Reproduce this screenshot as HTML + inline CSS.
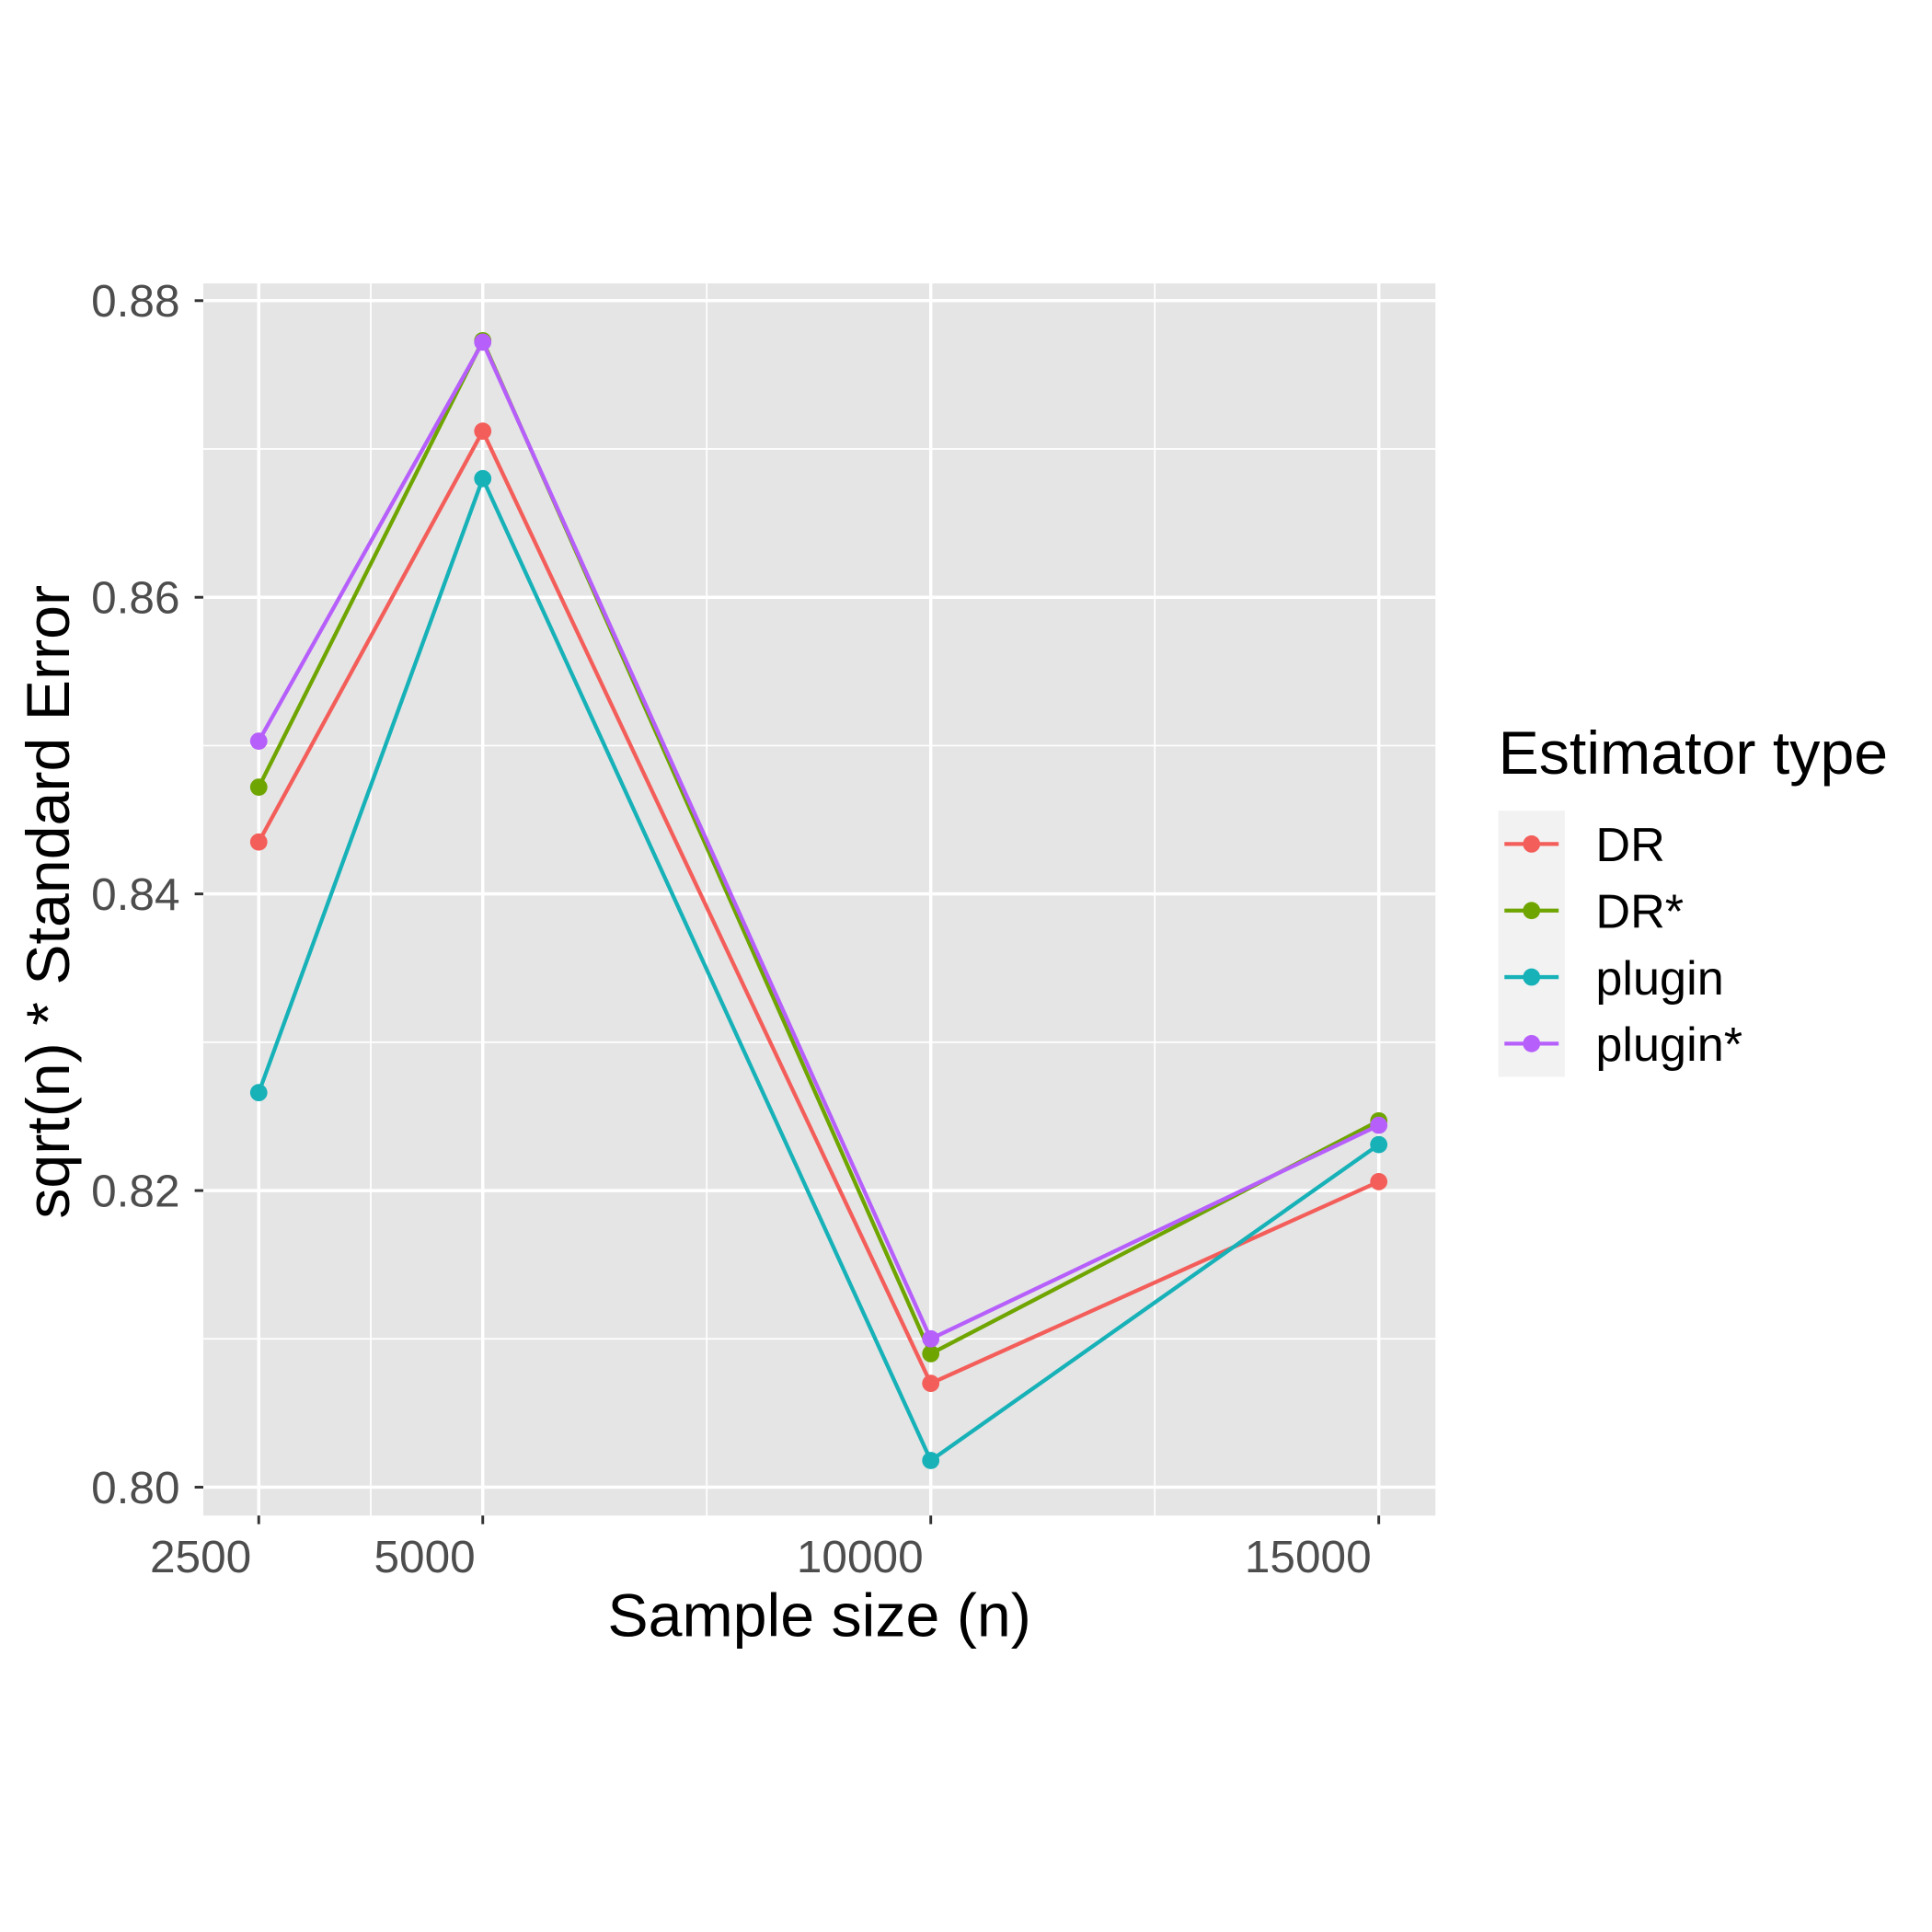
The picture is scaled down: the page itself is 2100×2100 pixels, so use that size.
<!DOCTYPE html>
<html><head><meta charset="utf-8"><style>
html,body{margin:0;padding:0;background:#fff;}
svg{display:block;}
text{font-family:"Liberation Sans",Arial,sans-serif;}
</style></head><body>
<svg id="chart" width="2100" height="2100" viewBox="0 0 1568 1568" xmlns="http://www.w3.org/2000/svg">
<rect width="1568" height="1568" fill="#fff"/>
<rect x="165" y="230" width="1000" height="1000" fill="#E5E5E5"/>
<g id="grid"></g>
<g id="series"></g>
<g id="axes"></g>
<text x="665" y="1328" font-size="49.5" text-anchor="middle" fill="#000">Sample size (n)</text>
<text transform="translate(56,732) rotate(-90)" font-size="49.5" text-anchor="middle" fill="#000">sqrt(n) * Standard Error</text>
<text x="1216" y="628" font-size="49.5" fill="#000">Estimator type</text>
<rect x="1216" y="658" width="54" height="216" fill="#F2F2F2"/>
<g id="legend"></g>
</svg>
<script>
const categories = [2500, 5000, 10000, 15000];
const seriesNames = ["DR", "DR*", "plugin", "plugin*"];
const drValues = [0.8435, 0.8712, 0.8070, 0.8206];
const drStarValues = [0.8472, 0.8773, 0.8090, 0.8247];
const pluginValues = [0.8266, 0.8680, 0.8018, 0.8231];
const pluginStarValues = [0.8503, 0.8772, 0.8100, 0.8244];
const xTicks = [2500, 5000, 10000, 15000];
const xTickLabels = ["2500", "5000", "10000", "15000"];
const xMinor = [3750, 7500, 12500];
const yTicks = [0.80, 0.82, 0.84, 0.86, 0.88];
const yTickLabels = ["0.80", "0.82", "0.84", "0.86", "0.88"];
const yMinor = [0.81, 0.83, 0.85, 0.87];

const colors = ["#F35E5A", "#6FA500", "#17B1B8", "#B65FFB"];
const allSeries = [drValues, drStarValues, pluginValues, pluginStarValues];
const NS = "http://www.w3.org/2000/svg";
function xs(v){ return 210 + (v - 2500) * (1119 - 210) / 12500; }
function ys(v){ return 1207 - (v - 0.80) * (1207 - 244) / 0.08; }
function mk(tag, attrs, parent){
  const e = document.createElementNS(NS, tag);
  for (const k in attrs) e.setAttribute(k, attrs[k]);
  parent.appendChild(e); return e;
}
const grid = document.getElementById('grid');
yMinor.forEach(v => {
  const l = mk('line', {x1:165, x2:1165, y1:ys(v), y2:ys(v), stroke:'#fff', 'stroke-width':1.3}, grid);
  
  
});
xMinor.forEach(v => {
  const l = mk('line', {x1:xs(v), x2:xs(v), y1:230, y2:1230, stroke:'#fff', 'stroke-width':1.3}, grid);
  
  
});
yTicks.forEach(v => {
  const l = mk('line', {x1:165, x2:1165, y1:ys(v), y2:ys(v), stroke:'#fff', 'stroke-width':2.6}, grid);
  
  
});
xTicks.forEach(v => {
  const l = mk('line', {x1:xs(v), x2:xs(v), y1:230, y2:1230, stroke:'#fff', 'stroke-width':2.6}, grid);
  
  
});
const axes = document.getElementById('axes');
yTicks.forEach((v, i) => {
  const t = mk('line', {x1:158, x2:165, y1:ys(v), y2:ys(v), stroke:'#333', 'stroke-width':2.2}, axes);
  
  
  const tx = mk('text', {x:146, y:ys(v) + 13, 'font-size':37, 'text-anchor':'end', fill:'#4D4D4D'}, axes);
  tx.textContent = yTickLabels[i];
  
  
});
xTicks.forEach((v, i) => {
  const t = mk('line', {x1:xs(v), x2:xs(v), y1:1230, y2:1237, stroke:'#333', 'stroke-width':2.2}, axes);
  
  
  const tx = mk('text', {x:xs(v) - 6, y:1276, 'font-size':37, 'text-anchor':'end', fill:'#4D4D4D'}, axes);
  tx.textContent = xTickLabels[i];
  
  
});
const sg = document.getElementById('series');
allSeries.forEach((vals, s) => {
  const g = mk('g', {}, sg);
  
  
  const pts = vals.map((v, i) => xs(categories[i]) + ',' + ys(v)).join(' ');
  const pl = mk('polyline', {points:pts, fill:'none', stroke:colors[s], 'stroke-width':3.2}, g);
  
  
  vals.forEach((v, i) => {
    const c = mk('circle', {cx:xs(categories[i]), cy:ys(v), r:7, fill:colors[s]}, g);
    
    
  });
});
const lg = document.getElementById('legend');
seriesNames.forEach((n, i) => {
  const y = 685 + i * 54;
  const g = mk('g', {}, lg);
  
  
  mk('line', {x1:1221, x2:1265, y1:y, y2:y, stroke:colors[i], 'stroke-width':3.2}, g);
  mk('circle', {cx:1243, cy:y, r:7, fill:colors[i]}, g);
  const t = mk('text', {x:1295, y:y + 14, 'font-size':39, fill:'#000'}, g);
  t.textContent = n;
});
</script>
</body></html>
